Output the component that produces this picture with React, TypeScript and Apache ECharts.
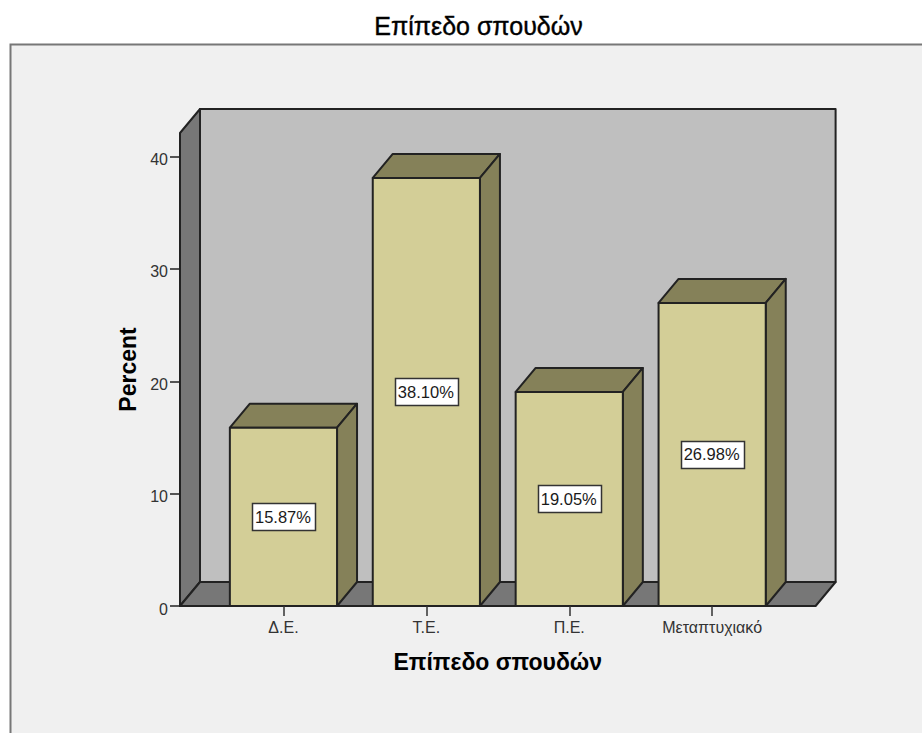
import React, { useEffect, useRef } from "react";
import * as echarts from "echarts";

// Education level distribution, drawn as pseudo-3D columns.
const chartTitle = "Επίπεδο σπουδών";
const xAxisTitle = "Επίπεδο σπουδών";
const yAxisTitle = "Percent";
const categories = ["Δ.Ε.", "Τ.Ε.", "Π.Ε.", "Μεταπτυχιακό"];
const percents = [15.87, 38.1, 19.05, 26.98];
const yTicks = [0, 10, 20, 30, 40];
const yMax = 42.1;

const FONT = "'Liberation Sans', Arial, sans-serif";
const INK = "#222222";
const DEPTH_X = 20;
const DEPTH_Y = 24;
const AXIS_OFFSET = 32;
const BAR_RATIO = 0.75;

const edge = { stroke: INK, lineWidth: 2, lineJoin: "round" as const };

function poly(points: number[][], fill: string) {
  return { type: "polygon", shape: { points }, style: { fill, ...edge } };
}

// Back wall, left wall and floor of the plot box, placed from the grid rectangle.
function renderBox(params: any) {
  const cs = params.coordSys;
  const l = cs.x - AXIS_OFFSET;
  const r = cs.x + cs.width + AXIS_OFFSET;
  const t = cs.y;
  const b = cs.y + cs.height;
  return {
    type: "group",
    children: [
      poly([[l + DEPTH_X, t - DEPTH_Y], [r + DEPTH_X, t - DEPTH_Y], [r + DEPTH_X, b - DEPTH_Y], [l + DEPTH_X, b - DEPTH_Y]], "#bfbfbf"),
      poly([[l, t], [l + DEPTH_X, t - DEPTH_Y], [l + DEPTH_X, b - DEPTH_Y], [l, b]], "#777777"),
      poly([[l, b], [l + DEPTH_X, b - DEPTH_Y], [r + DEPTH_X, b - DEPTH_Y], [r, b]], "#777777"),
    ],
  };
}

// One column: front, top and side faces plus the boxed percentage at mid-height.
function renderColumn(_params: any, api: any) {
  const idx = api.value(0);
  const val = api.value(1);
  const [cx, yTop] = api.coord([idx, val]);
  const [, yBase] = api.coord([idx, 0]);
  const w = api.size([1, 0])[0] * BAR_RATIO;
  const l = cx - w / 2;
  const r = cx + w / 2;
  const midY = (yTop + yBase) / 2;
  const boxW = 63;
  const boxH = 27;
  return {
    type: "group",
    children: [
      poly([[l, yTop], [l + DEPTH_X, yTop - DEPTH_Y], [r + DEPTH_X, yTop - DEPTH_Y], [r, yTop]], "#858159"),
      poly([[r, yTop], [r + DEPTH_X, yTop - DEPTH_Y], [r + DEPTH_X, yBase - DEPTH_Y], [r, yBase]], "#858159"),
      poly([[l, yTop], [r, yTop], [r, yBase], [l, yBase]], "#d3ce97"),
      {
        type: "rect",
        shape: { x: Math.round(cx - boxW / 2) + 0.5, y: Math.round(midY - boxH / 2) + 0.5, width: boxW, height: boxH },
        style: { fill: "#ffffff", stroke: "#333333", lineWidth: 1.5 },
      },
      {
        type: "text",
        style: {
          x: cx - 0.5,
          y: midY,
          text: `${val.toFixed(2)}%`,
          fill: "#1a1a1a",
          font: `16.5px ${FONT}`,
          align: "center",
          verticalAlign: "middle",
        },
      },
    ],
  };
}

export default function App() {
  const ref = useRef<HTMLDivElement>(null);

  useEffect(() => {
    const chart = echarts.init(ref.current!, undefined, { renderer: "svg" });
    chart.setOption({
      animation: false,
      backgroundColor: "#ffffff",
      textStyle: { fontFamily: FONT },
      title: {
        text: chartTitle,
        left: 473.5,
        top: 8,
        textAlign: "center",
        textStyle: {
          fontFamily: FONT,
          fontSize: 25,
          fontWeight: "normal",
          color: "#000000",
          textBorderColor: "#000000",
          textBorderWidth: 0.4,
        },
      },
      graphic: [
        {
          type: "rect",
          z: -10,
          shape: { x: 10.5, y: 44.5, width: 1000, height: 800 },
          style: { fill: "#f0f0f0", stroke: "#777777", lineWidth: 2 },
        },
      ],
      grid: { left: 212, top: 133, width: 571.6, height: 473, containLabel: false },
      xAxis: {
        type: "category",
        data: categories,
        name: xAxisTitle,
        nameLocation: "middle",
        nameGap: 44,
        nameTextStyle: { fontFamily: FONT, fontSize: 23, fontWeight: "bold", color: "#000000" },
        axisLine: { show: false },
        axisTick: { show: true, alignWithLabel: true, length: 10, lineStyle: { color: "#333333", width: 1.5 } },
        axisLabel: { fontFamily: FONT, fontSize: 16, color: "#333333", margin: 13, interval: 0 },
        splitLine: { show: false },
        z: 5,
      },
      yAxis: {
        type: "value",
        min: 0,
        max: yMax,
        offset: AXIS_OFFSET,
        name: yAxisTitle,
        nameLocation: "middle",
        nameGap: 41,
        nameTextStyle: { fontFamily: FONT, fontSize: 23, fontWeight: "bold", color: "#000000" },
        axisLine: { show: false },
        axisTick: { show: true, length: 10, customValues: yTicks, lineStyle: { color: "#222222", width: 1.5 } },
        axisLabel: {
          margin: 12,
          customValues: yTicks,
          // Tick numbers sit a little below their tick marks.
          formatter: (v: number) => `{n|${v}}`,
          rich: { n: { fontFamily: FONT, fontSize: 16, color: "#333333", padding: [6, 0, 0, 0] } },
        },
        splitLine: { show: false },
      },
      series: [
        {
          type: "custom",
          coordinateSystem: "cartesian2d",
          clip: false,
          silent: true,
          z: 1,
          data: [[0, 0]],
          renderItem: renderBox,
        },
        {
          type: "custom",
          coordinateSystem: "cartesian2d",
          clip: false,
          silent: true,
          z: 2,
          encode: { x: 0, y: 1 },
          data: percents.map((v, i) => [i, v]),
          renderItem: renderColumn,
        },
      ],
    });
    return () => chart.dispose();
  }, []);

  return <div ref={ref} style={{ position: "absolute", left: 0, top: 0, width: 922, height: 733 }} />;
}
